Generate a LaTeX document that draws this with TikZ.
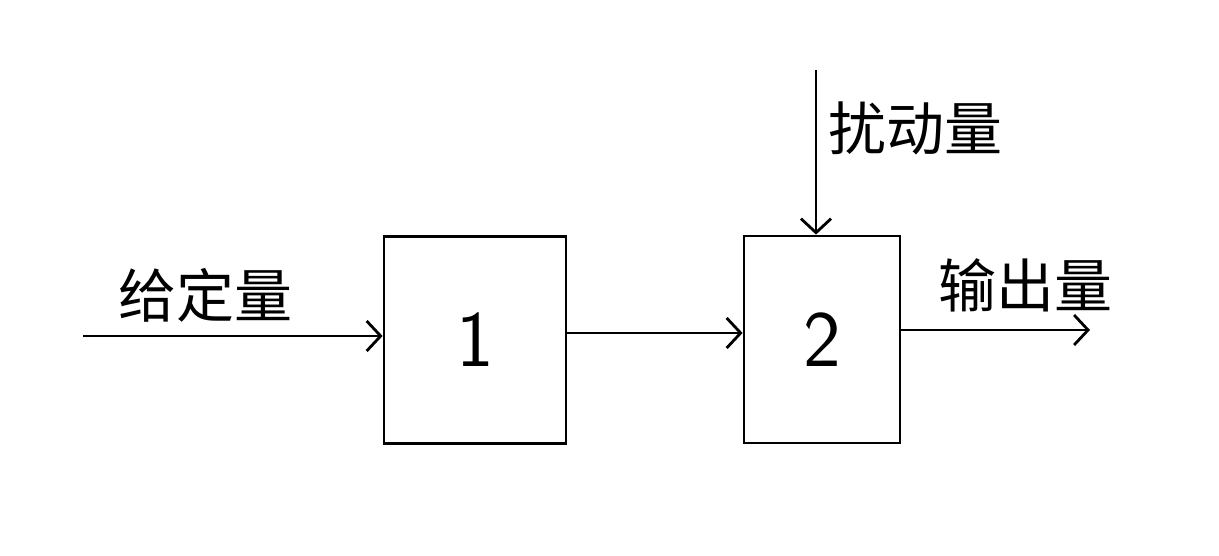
\documentclass[tikz,border=0pt]{standalone}
\usepackage{fontspec}
\newfontfamily\cjk{Noto Sans CJK SC}
\usetikzlibrary{arrows.meta}
\begin{document}
\begin{tikzpicture}[x=1pt,y=-1pt,
  blk/.style={draw,line width=2.8pt,minimum width=#1,minimum height=207pt,inner sep=0pt,font=\fontsize{80}{90}\selectfont\sffamily},
  sig/.style={line width=2.8pt,-{Straight Barb[length=14pt,width=30pt,line width=2.8pt]}},
  lbl/.style={font=\cjk\fontsize{58}{64}\selectfont,inner sep=0pt}]
\useasboundingbox (0,0) rectangle (1219,556);
\node[blk=182pt] (b1) at (475,340) {1};
\node[blk=156pt] (b2) at (822,339.5) {2};
\coordinate (in) at (83,336);
\coordinate (out) at (1090,330);
\coordinate (dist) at (816,70);
\draw[sig] (in) -- (in -| b1.west);
\draw[sig] (b1.east |- 0,333) -- (b2.west |- 0,333);
\draw[sig] (b2.east |- out) -- (out);
\draw[sig] (dist) -- (dist |- b2.north);
\node[lbl] (l1) at (205,295) {给定量};
\node[lbl] (l2) at (1025,285) {输出量};
\node[lbl] (l3) at (915,128) {扰动量};
\end{tikzpicture}
\end{document}
